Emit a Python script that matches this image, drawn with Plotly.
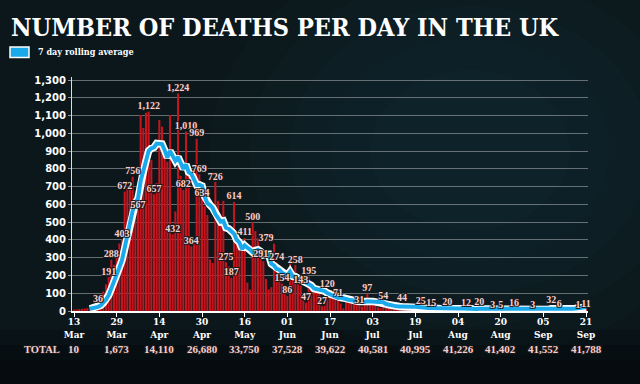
import pandas as pd
import plotly.graph_objects as go

# ---------------- data ----------------
start_date = "2020-03-13"
daily_deaths = [
    8, 9, 11, 12, 14, 16, 20, 30, 35, 36,
    70, 110, 150, 191, 288, 260, 330,
    380, 403, 672, 690, 720, 756, 620, 567, 1103, 1030, 1116, 1122, 850, 657, 720, 1075,
    1037, 870, 840, 1103, 432, 560, 1224, 760, 682, 1010, 800, 364, 380, 969, 769, 634,
    590, 540, 290, 270, 726, 620, 480, 620, 275, 250, 187, 614, 380, 380, 360, 411,
    160, 120, 500, 450, 409, 291, 280, 180, 121, 134, 379, 274, 260, 154, 113, 86,
    280, 200, 258, 150, 143, 60, 47, 195, 150, 140, 130, 110, 27, 30, 120, 100,
    85, 80, 71, 43, 15, 80, 70, 65, 60, 55, 31, 25, 50, 97, 60, 55,
    40, 20, 16, 54, 30, 28, 25, 21, 10, 12, 44, 30, 25, 25, 20, 10,
    11, 25, 18, 16, 14, 15, 7, 6, 18, 16, 14, 20, 12, 8, 5, 20,
    15, 14, 12, 10, 5, 8, 16, 20, 14, 12, 10, 6, 3, 12, 14, 5,
    11, 9, 6, 4, 16, 12, 11, 10, 8, 6, 1, 3, 15, 12, 14, 12,
    2, 3, 32, 8, 14, 6, 9, 5, 9, 27, 20, 21, 27, 27, 18, 11,
]
dates = pd.date_range(start_date, periods=len(daily_deaths), freq="D")

label_dates = [
    "2020-03-22", "2020-03-26", "2020-03-27", "2020-03-31", "2020-04-01", "2020-04-04",
    "2020-04-06", "2020-04-10", "2020-04-12", "2020-04-19", "2020-04-21", "2020-04-23",
    "2020-04-24", "2020-04-26", "2020-04-28", "2020-04-29", "2020-04-30", "2020-05-05",
    "2020-05-09", "2020-05-11", "2020-05-12", "2020-05-16", "2020-05-19", "2020-05-22",
    "2020-05-24", "2020-05-28", "2020-05-30", "2020-06-01", "2020-06-04", "2020-06-06",
    "2020-06-08", "2020-06-09", "2020-06-14", "2020-06-16", "2020-06-20", "2020-06-28",
    "2020-07-01", "2020-07-07", "2020-07-14", "2020-07-21", "2020-07-25", "2020-07-31",
    "2020-08-07", "2020-08-12", "2020-08-17", "2020-08-20", "2020-08-25", "2020-09-01",
    "2020-09-08", "2020-09-11", "2020-09-18", "2020-09-21",
]
label_values = [
    36, 191, 288, 403, 672, 756,
    567, 1122, 657, 432, 1224, 682,
    1010, 364, 969, 769, 634, 726,
    275, 187, 614, 411, 500, 291,
    379, 274, 154, 86, 258, 143,
    47, 195, 27, 120, 71, 31,
    97, 54, 44, 25, 15, 20,
    12, 20, 3, 5, 16, 3,
    32, 6, 1, 11,
]

tick_dates = ["2020-03-13", "2020-03-29", "2020-04-14", "2020-04-30", "2020-05-16",
              "2020-06-01", "2020-06-17", "2020-07-03", "2020-07-19", "2020-08-04",
              "2020-08-20", "2020-09-05", "2020-09-21"]
tick_days = ["13", "29", "14", "30", "16", "01", "17", "03", "19", "04", "20", "05", "21"]
tick_months = ["Mar", "Mar", "Apr", "Apr", "May", "Jun", "Jun", "Jul", "Jul", "Aug", "Aug", "Sep", "Sep"]
totals = ["10", "1,673", "14,110", "26,680", "33,750", "37,528", "39,622",
          "40,581", "40,995", "41,226", "41,402", "41,552", "41,788"]

y_ticks = list(range(0, 1301, 100))

# 7-day rolling average of the daily figures
rolling = pd.Series(daily_deaths, index=dates).rolling(7).mean()

# ---------------- layout helpers ----------------
W, H = 640, 384
L, R, T, B = 72, 52, 77, 73
PW, PH = W - L - R, H - T - B


def fx(px):
    return (px - L) / PW


def fy(py):
    return (H - B - py) / PH


PINK = "#f7cfcf"
OUTLINE = "-1px -1px 0 #1a1a1a, 1px -1px 0 #1a1a1a, -1px 1px 0 #1a1a1a, 1px 1px 0 #1a1a1a"
SERIF = "Liberation Serif"
SLAB = "DejaVu Serif Condensed, DejaVu Serif"

fig = go.Figure()

fig.add_trace(go.Bar(
    x=dates, y=daily_deaths,
    marker=dict(color="#c4151e", line=dict(width=0)),
    hoverinfo="skip",
))

fig.add_trace(go.Scatter(
    x=rolling.index, y=rolling.values, mode="lines",
    line=dict(color="white", width=7.5), hoverinfo="skip",
))
fig.add_trace(go.Scatter(
    x=rolling.index, y=rolling.values, mode="lines",
    line=dict(color="#1aa9ea", width=4), hoverinfo="skip",
))

fig.add_trace(go.Scatter(
    x=pd.to_datetime(label_dates), y=label_values, mode="text",
    text=[f"{v:,}" for v in label_values], textposition="top center",
    textfont=dict(family=SERIF, size=10, color=PINK, weight="bold", shadow=OUTLINE),
    hoverinfo="skip", cliponaxis=False,
))

annotations = []
for d, t in zip(tick_dates, totals):
    annotations.append(dict(
        x=d, xref="x", y=fy(349), yref="paper", text=t, showarrow=False,
        xanchor="center", yanchor="middle",
        font=dict(family=SERIF, size=11, color=PINK, weight="bold", shadow=OUTLINE),
    ))
annotations.append(dict(
    x=fx(22), xref="paper", y=fy(349), yref="paper", text="TOTAL", showarrow=False,
    xanchor="left", yanchor="middle",
    font=dict(family=SERIF, size=10.5, color=PINK, weight="bold", shadow=OUTLINE),
))
annotations.append(dict(
    x=fx(9), xref="paper", y=fy(27), yref="paper",
    text="NUMBER OF DEATHS PER DAY IN THE UK", showarrow=False,
    xanchor="left", yanchor="middle",
    font=dict(family=SLAB, size=25, color="white", weight="bold"),
))
annotations.append(dict(
    x=fx(36), xref="paper", y=fy(52), yref="paper",
    text="7 day rolling average", showarrow=False,
    xanchor="left", yanchor="middle",
    font=dict(family=SLAB, size=9, color="white", weight="bold"),
))

shapes = []
# soft teal glow in the background
for r in [260, 220, 180, 140, 100]:
    cx, cy = 470, 150
    shapes.append(dict(
        type="circle", xref="paper", yref="paper", layer="below",
        x0=fx(cx - r), x1=fx(cx + r), y0=fy(cy + r * 0.8), y1=fy(cy - r * 0.8),
        fillcolor="#16414a", opacity=0.08, line=dict(width=0),
    ))
# darker bottom band
for top in [330, 345, 360]:
    shapes.append(dict(
        type="rect", xref="paper", yref="paper", layer="below",
        x0=fx(0), x1=fx(W), y0=fy(H), y1=fy(top),
        fillcolor="#000000", opacity=0.18, line=dict(width=0),
    ))
# legend swatch
shapes.append(dict(
    type="rect", xref="paper", yref="paper",
    x0=fx(10), x1=fx(29), y0=fy(57.5), y1=fy(47),
    fillcolor="#1aa9ea", line=dict(color="white", width=1.5),
))

fig.update_layout(
    width=W, height=H,
    margin=dict(l=L, r=R, t=T, b=B, pad=0),
    paper_bgcolor="#0b171b", plot_bgcolor="rgba(0,0,0,0)",
    showlegend=False, bargap=0.22,
    annotations=annotations, shapes=shapes,
    xaxis=dict(
        type="date",
        range=["2020-03-12 06:00", "2020-09-21 18:00"],
        tickvals=tick_dates,
        ticktext=[f"{d}<br>{m}" for d, m in zip(tick_days, tick_months)],
        tickfont=dict(family=SLAB, size=10, color="white", weight="bold"),
        showgrid=False, zeroline=False,
        showline=True, linecolor="white", linewidth=1.5,
        ticks="outside", ticklen=4, tickcolor="white", tickwidth=1,
        ticklabelstandoff=-4,
    ),
    yaxis=dict(
        range=[0, PH / 0.17769],
        tickvals=y_ticks,
        ticktext=[f"{v:,}" for v in y_ticks],
        tickfont=dict(family="DejaVu Sans", size=10, color="white", weight="bold"),
        showgrid=True, gridcolor="rgba(175,180,182,0.55)", gridwidth=1,
        zeroline=False,
        showline=True, linecolor="#dddddd", linewidth=1,
        ticks="outside", ticklen=3, tickcolor="rgba(175,180,182,0.8)",
    ),
)

fig.write_html(
    "out.html",
    config={"displayModeBar": False, "staticPlot": True},
    post_script="document.body.style.margin='0px';document.body.style.background='#0b171b';",
)
